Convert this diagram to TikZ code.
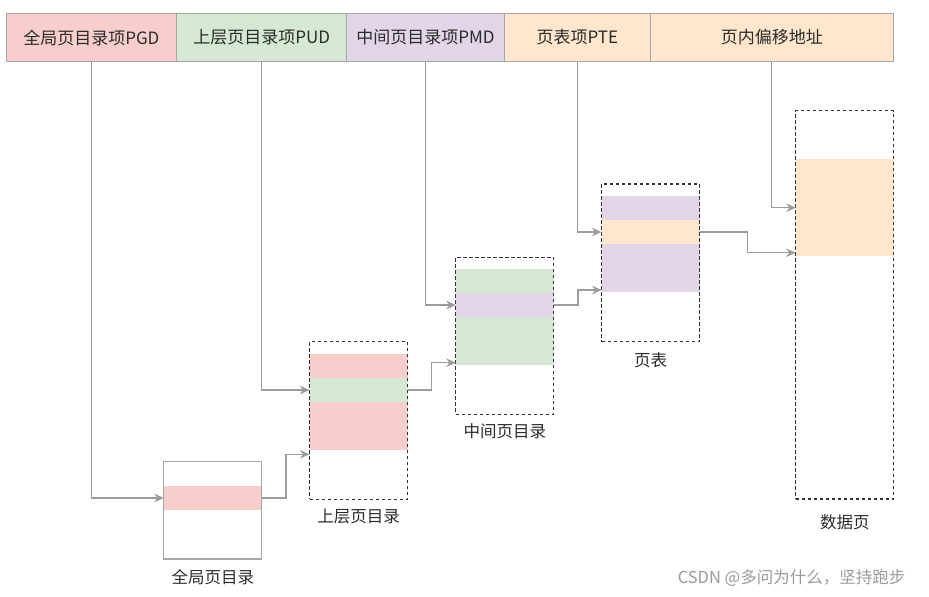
\documentclass[tikz,border=0pt]{standalone}
\usepackage{fontspec}
\setmainfont{Noto Sans CJK SC}
\usetikzlibrary{arrows.meta,calc}
\definecolor{cpink}{HTML}{F8CECC}
\definecolor{cgreen}{HTML}{D5E8D4}
\definecolor{cpurple}{HTML}{E1D5E7}
\definecolor{corange}{HTML}{FFE6CC}
\definecolor{cborder}{HTML}{A6A6A6}
\definecolor{carrow}{HTML}{9C9C9C}
\definecolor{cdash}{HTML}{333333}
\definecolor{ctext}{HTML}{2B2B2B}
\definecolor{cwm}{HTML}{9A9A9A}
\begin{document}
\begin{tikzpicture}[x=1pt,y=-1pt,
  every node/.style={inner sep=0pt,outer sep=0pt},
  cell/.style={draw=cborder,line width=1pt,minimum height=48pt,text=ctext,font=\fontsize{17pt}{19pt}\selectfont},
  band/.style={minimum width=98pt},
  dbox/.style={draw=cdash,line width=1.1pt,dash pattern=on 3.5pt off 2.5pt,minimum width=98pt},
  sbox/.style={draw=cborder,line width=1.1pt,minimum width=98pt},
  lbl/.style={text=ctext,font=\fontsize{16.5pt}{19pt}\selectfont},
  arr/.style={draw=carrow,line width=1.3pt,-{Stealth[length=9.5pt,width=8.5pt,inset=3pt]}}]
\useasboundingbox (0,0) rectangle (929,597);
% top bar
\node[cell,fill=cpink,minimum width=170.7pt] (pgd) at (91.35,37.5) {全局页目录项PGD};
\node[cell,fill=cgreen,minimum width=170pt] (pud) at (261.7,37.5) {上层页目录项PUD};
\node[cell,fill=cpurple,minimum width=157.6pt] (pmd) at (425.5,37.5) {中间页目录项PMD};
\node[cell,fill=corange,minimum width=146pt] (pte) at (577.3,37.5) {页表项PTE};
\node[cell,fill=corange,minimum width=243pt] (off) at (771.8,37.5) {页内偏移地址};
% bands
\node[band,fill=cpink,minimum height=24pt] (gband) at (212.85,498) {};
\node[band,fill=cpink,minimum height=24pt] (uband1) at (358.5,366) {};
\node[band,fill=cgreen,minimum height=24pt] (uband2) at (358.5,390) {};
\node[band,fill=cpink,minimum height=48pt] (uband3) at (358.5,426) {};
\node[band,fill=cgreen,minimum height=24pt] (mband1) at (504.85,281) {};
\node[band,fill=cpurple,minimum height=24pt] (mband2) at (504.85,305) {};
\node[band,fill=cgreen,minimum height=48pt] (mband3) at (504.85,341) {};
\node[band,fill=cpurple,minimum height=24pt] (tband1) at (650.5,208) {};
\node[band,fill=corange,minimum height=24pt] (tband2) at (650.5,232) {};
\node[band,fill=cpurple,minimum height=48pt] (tband3) at (650.5,268) {};
\node[band,fill=corange,minimum height=96.7pt] (dband) at (844.85,207.7) {};
% boxes
\node[sbox,minimum height=97.3pt] (gbox) at (212.85,510.35) {};
\node[dbox,minimum height=157.6pt] (ubox) at (358.5,420.5) {};
\node[dbox,minimum height=157pt] (mbox) at (504.85,335.8) {};
\node[dbox,minimum height=157.7pt] (tbox) at (650.5,262.85) {};
\node[dbox,minimum height=388.3pt] (datbox) at (844.85,304.85) {};
% labels
\node[lbl] (glbl) at ([yshift=-17.7pt]gbox.south) {全局页目录};
\node[lbl] (ulbl) at ([yshift=-17.4pt]ubox.south) {上层页目录};
\node[lbl] (mlbl) at ([yshift=-17.4pt]mbox.south) {中间页目录};
\node[lbl] (tlbl) at ([yshift=-18.3pt]tbox.south) {页表};
\node[lbl] (dlbl) at ([yshift=-23.7pt]datbox.south) {数据页};
% entry coordinates
\coordinate (uin) at (309.5,454.3);
\coordinate (min) at (455.8,362.7);
\coordinate (tin) at (601.7,290);
\coordinate (din) at (795.7,252.7);
% connectors
\draw[arr] (pgd.south) |- (gband.west);
\draw[arr] (pud.south) |- (uband2.west);
\draw[arr] (pmd.south) |- (mband2.west);
\draw[arr] (pte.south) |- (tband2.west);
\draw[arr] (off.south) |- (dband.west);
\draw[arr] (gband.east) -- ++(24,0) |- (uin);
\draw[arr] (uband2.east) -- ++(24,0) |- (min);
\draw[arr] (mband2.east) -- ++(24,0) |- (tin);
\draw[arr] (tband2.east) -- ++(48,0) |- (din);
% watermark
\node[text=cwm,font=\fontsize{16.5pt}{18pt}\selectfont] (wm) at (791.5,578) {CSDN @多问为什么，坚持跑步};
\end{tikzpicture}
\end{document}
